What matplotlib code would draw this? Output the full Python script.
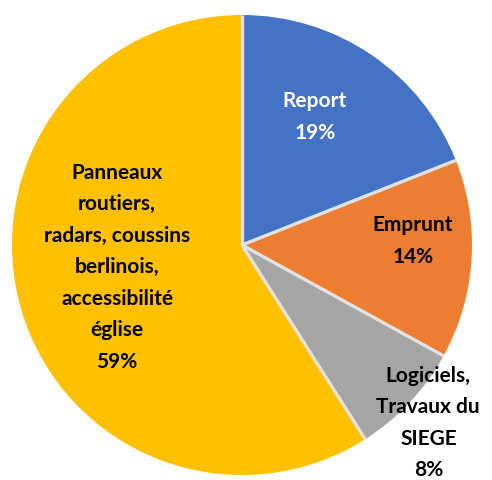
import matplotlib.pyplot as plt
import numpy as np

labels = ["Report", "Emprunt", "Logiciels,\nTravaux du\nSIEGE",
          "Panneaux\nroutiers,\nradars, coussins\nberlinois,\naccessibilité\néglise"]
values = [19, 14, 8, 59]
colors = ["#4472C4", "#ED7D31", "#A5A5A5", "#FFC000"]
text_colors = ["white", "black", "black", "black"]

# label positions (fraction of radius), like Excel's best fit
label_pos = [(0.317, 0.557), (0.743, 0.017), (0.81, -0.774), (-0.543, -0.096)]

plt.rcParams['font.family'] = ['Lato', 'DejaVu Sans']

fig = plt.figure(figsize=(4.92, 4.8), dpi=100)
ax = fig.add_axes([0, 0, 1, 1])

ax.pie(values, colors=colors, startangle=90, counterclock=False, radius=1,
       wedgeprops=dict(linewidth=0))

# separator lines between slices (no outer border)
ang = 90 - 360 * np.cumsum([0] + values[:-1]) / sum(values)
for a in np.radians(ang):
    ax.plot([0, np.cos(a)], [0, np.sin(a)], color="#e2e2e2", lw=2.4,
            solid_capstyle="butt")

for lab, v, (x, y), c in zip(labels, values, label_pos, text_colors):
    ax.text(x, y, "%s\n%d%%" % (lab, v), ha="center", va="center",
            fontsize=15, fontweight="bold", color=c, linespacing=1.72)

ax.set_xlim(-242/230, (492-242)/230)
ax.set_ylim(-(480-245)/230, 245/230)
ax.set_aspect("equal")
ax.axis("off")

fig.savefig("out.png", dpi=100)
